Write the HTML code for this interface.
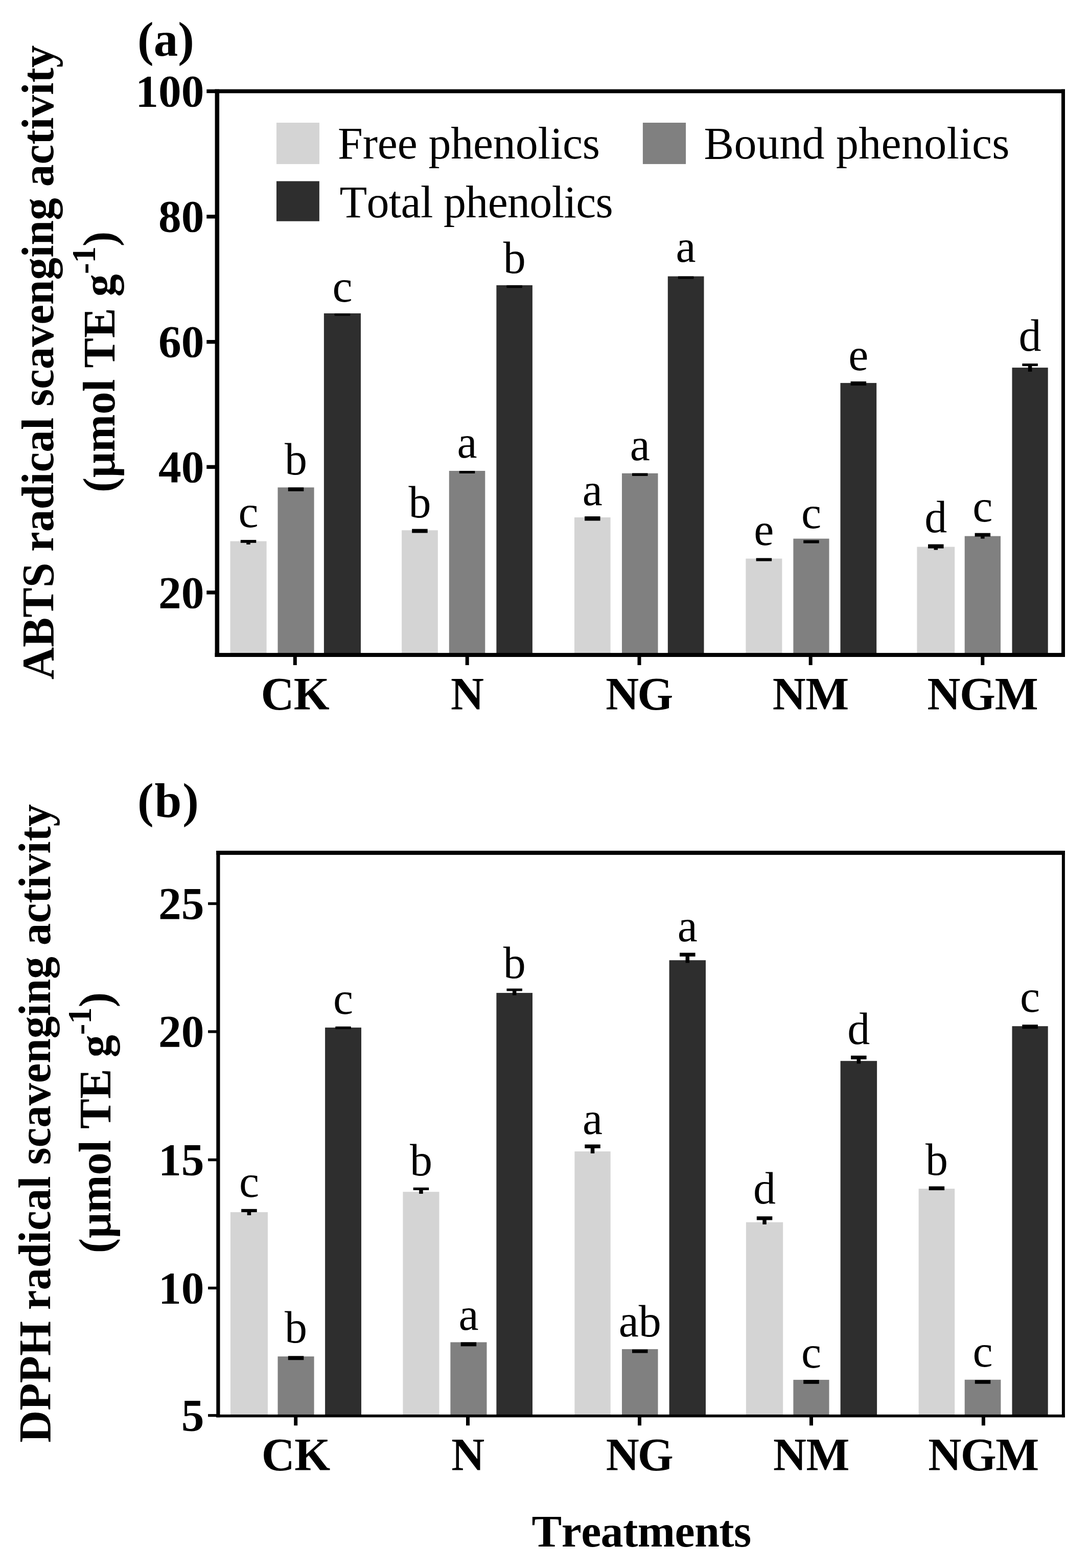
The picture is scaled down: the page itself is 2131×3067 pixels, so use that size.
<!DOCTYPE html>
<html><head><meta charset="utf-8"><title>Radical scavenging activity</title>
<style>html,body{margin:0;padding:0;background:#fff;}svg{display:block;filter:blur(0.7px);}text{font-kerning:none;font-feature-settings:"kern" 0;}</style>
</head><body>
<svg width="2131" height="3067" viewBox="0 0 2131 3067" font-family="'Liberation Serif', 'Times New Roman', serif">
<rect x="0" y="0" width="2131" height="3067" fill="#fff"/>
<rect x="450.5" y="1058.6" width="71.1" height="222.4" fill="#d4d4d4"/>
<rect x="543.5" y="953.4" width="71.1" height="327.6" fill="#808080"/>
<rect x="633.9" y="612.9" width="72.1" height="668.1" fill="#2e2e2e"/>
<rect x="786.1" y="1037.2" width="70.7" height="243.8" fill="#d4d4d4"/>
<rect x="878.8" y="921" width="70.5" height="360" fill="#808080"/>
<rect x="971.4" y="557.9" width="70.5" height="723.1" fill="#2e2e2e"/>
<rect x="1124" y="1012" width="70.6" height="269" fill="#d4d4d4"/>
<rect x="1217" y="925.8" width="70.5" height="355.2" fill="#808080"/>
<rect x="1306.8" y="540.5" width="70.7" height="740.5" fill="#2e2e2e"/>
<rect x="1459.4" y="1092.6" width="71" height="188.4" fill="#d4d4d4"/>
<rect x="1552.4" y="1053.6" width="70.1" height="227.4" fill="#808080"/>
<rect x="1644.5" y="749.1" width="70.7" height="531.9" fill="#2e2e2e"/>
<rect x="1794.4" y="1069.6" width="73.8" height="211.4" fill="#d4d4d4"/>
<rect x="1887.7" y="1048.6" width="70.3" height="232.4" fill="#808080"/>
<rect x="1980.5" y="719.1" width="70.2" height="561.9" fill="#2e2e2e"/>
<rect x="470.8" y="1056.1" width="30.5" height="5.7" fill="#000"/>
<rect x="482.3" y="1061.3" width="7.5" height="3.7" fill="#000"/>
<rect x="563.8" y="953.4" width="30.5" height="7.5" fill="#000"/>
<rect x="654.7" y="613.3" width="30.5" height="4.4" fill="#000"/>
<rect x="806.2" y="1034.6" width="30.5" height="7.8" fill="#000"/>
<rect x="898.8" y="921" width="30.5" height="5" fill="#000"/>
<rect x="991.4" y="557.9" width="30.5" height="5.3" fill="#000"/>
<rect x="1144.05" y="1010" width="30.5" height="8.5" fill="#000"/>
<rect x="1237" y="925.5" width="30.5" height="5.5" fill="#000"/>
<rect x="1326.9" y="540.5" width="30.5" height="5" fill="#000"/>
<rect x="1479.65" y="1091.6" width="30.5" height="6" fill="#000"/>
<rect x="1572.2" y="1056.6" width="30.5" height="6" fill="#000"/>
<rect x="1664.6" y="746.1" width="30.5" height="8" fill="#000"/>
<rect x="1816.05" y="1064.6" width="30.5" height="8" fill="#000"/>
<rect x="1827.55" y="1072.1" width="7.5" height="3.5" fill="#000"/>
<rect x="1907.6" y="1042.6" width="30.5" height="7" fill="#000"/>
<rect x="1919.1" y="1049.1" width="7.5" height="4.5" fill="#000"/>
<rect x="2000.35" y="711.1" width="30.5" height="5" fill="#000"/>
<rect x="2011.85" y="715.6" width="7.5" height="11.4" fill="#000"/>
<rect x="420.6" y="174.6" width="1663.4" height="7.7" fill="#000"/>
<rect x="420.6" y="1277.1" width="1663.4" height="7.9" fill="#000"/>
<rect x="420.6" y="174.6" width="8.5" height="1110.4" fill="#000"/>
<rect x="2077" y="174.6" width="7" height="1110.4" fill="#000"/>
<rect x="404.3" y="174.75" width="17.3" height="7.4" fill="#000"/>
<text x="399.6" y="208.05" font-size="89.5" font-weight="bold" text-anchor="end">100</text>
<rect x="404.3" y="420" width="17.3" height="7.4" fill="#000"/>
<text x="399.6" y="453.3" font-size="89.5" font-weight="bold" text-anchor="end">80</text>
<rect x="404.3" y="665" width="17.3" height="7.4" fill="#000"/>
<text x="399.6" y="698.3" font-size="89.5" font-weight="bold" text-anchor="end">60</text>
<rect x="404.3" y="909.7" width="17.3" height="7.4" fill="#000"/>
<text x="399.6" y="943" font-size="89.5" font-weight="bold" text-anchor="end">40</text>
<rect x="404.3" y="1155.2" width="17.3" height="7.4" fill="#000"/>
<text x="399.6" y="1188.5" font-size="89.5" font-weight="bold" text-anchor="end">20</text>
<rect x="573.8" y="1284" width="7" height="17" fill="#000"/>
<text x="577.6" y="1388.4" font-size="90.0" font-weight="bold" text-anchor="middle" textLength="134.3" lengthAdjust="spacing">CK</text>
<rect x="910.7" y="1284" width="7" height="17" fill="#000"/>
<text x="914.5" y="1388.4" font-size="90.0" font-weight="bold" text-anchor="middle">N</text>
<rect x="1247.5" y="1284" width="7" height="17" fill="#000"/>
<text x="1251.3" y="1388.4" font-size="90.0" font-weight="bold" text-anchor="middle" textLength="131.9" lengthAdjust="spacing">NG</text>
<rect x="1582.7" y="1284" width="7" height="17" fill="#000"/>
<text x="1586.5" y="1388.4" font-size="90.0" font-weight="bold" text-anchor="middle" textLength="149.4" lengthAdjust="spacing">NM</text>
<rect x="1919.3" y="1284" width="7" height="17" fill="#000"/>
<text x="1923.1" y="1388.4" font-size="90.0" font-weight="bold" text-anchor="middle" textLength="217.1" lengthAdjust="spacing">NGM</text>
<text x="486.05" y="1031.4" font-size="88.0" text-anchor="middle">c</text>
<text x="579.05" y="927.8" font-size="88.0" text-anchor="middle">b</text>
<text x="669.95" y="590.1" font-size="88.0" text-anchor="middle">c</text>
<text x="821.45" y="1011.5" font-size="88.0" text-anchor="middle">b</text>
<text x="914.05" y="895.2" font-size="88.0" text-anchor="middle">a</text>
<text x="1006.65" y="533.5" font-size="88.0" text-anchor="middle">b</text>
<text x="1159.3" y="987.5" font-size="88.0" text-anchor="middle">a</text>
<text x="1252.25" y="900.1" font-size="88.0" text-anchor="middle">a</text>
<text x="1342.15" y="511.7" font-size="88.0" text-anchor="middle">a</text>
<text x="1494.9" y="1065.7" font-size="88.0" text-anchor="middle">e</text>
<text x="1587.45" y="1032.6" font-size="88.0" text-anchor="middle">c</text>
<text x="1679.85" y="724.2" font-size="88.0" text-anchor="middle">e</text>
<text x="1831.3" y="1040.7" font-size="88.0" text-anchor="middle">d</text>
<text x="1922.85" y="1019.7" font-size="88.0" text-anchor="middle">c</text>
<text x="2015.6" y="686.2" font-size="88.0" text-anchor="middle">d</text>
<rect x="450.9" y="2371" width="73.1" height="398.5" fill="#d4d4d4"/>
<rect x="543.5" y="2653.2" width="71.1" height="116.3" fill="#808080"/>
<rect x="636.1" y="2009.9" width="70.9" height="759.6" fill="#2e2e2e"/>
<rect x="788.4" y="2331.2" width="71.1" height="438.3" fill="#d4d4d4"/>
<rect x="881.4" y="2625.4" width="71.1" height="144.1" fill="#808080"/>
<rect x="971.4" y="1942.1" width="70.6" height="827.4" fill="#2e2e2e"/>
<rect x="1124.4" y="2252.2" width="70.3" height="517.3" fill="#d4d4d4"/>
<rect x="1217" y="2638.9" width="70.5" height="130.6" fill="#808080"/>
<rect x="1309.6" y="1878.2" width="71.4" height="891.3" fill="#2e2e2e"/>
<rect x="1459.9" y="2390.7" width="72.3" height="378.8" fill="#d4d4d4"/>
<rect x="1552.4" y="2698.9" width="70.1" height="70.6" fill="#808080"/>
<rect x="1644.6" y="2075.2" width="71.5" height="694.3" fill="#2e2e2e"/>
<rect x="1797.6" y="2325.1" width="70.6" height="444.4" fill="#d4d4d4"/>
<rect x="1887.7" y="2698.7" width="70.7" height="70.8" fill="#808080"/>
<rect x="1980.5" y="2007.2" width="70.2" height="762.3" fill="#2e2e2e"/>
<rect x="472.2" y="2364.8" width="30.5" height="6.2" fill="#000"/>
<rect x="483.7" y="2370.5" width="7.5" height="6.5" fill="#000"/>
<rect x="563.8" y="2652.3" width="30.5" height="7.9" fill="#000"/>
<rect x="656.3" y="2007.8" width="30.5" height="5.1" fill="#000"/>
<rect x="808.7" y="2322.8" width="30.5" height="5.2" fill="#000"/>
<rect x="820.2" y="2327.5" width="7.5" height="7.5" fill="#000"/>
<rect x="901.7" y="2625.4" width="30.5" height="7.9" fill="#000"/>
<rect x="991.45" y="1933.6" width="30.5" height="4.9" fill="#000"/>
<rect x="1002.95" y="1938" width="7.5" height="8.7" fill="#000"/>
<rect x="1144.3" y="2238.6" width="30.5" height="7.4" fill="#000"/>
<rect x="1155.8" y="2245.5" width="7.5" height="10.5" fill="#000"/>
<rect x="1237" y="2639.5" width="30.5" height="7" fill="#000"/>
<rect x="1330.05" y="1863.6" width="30.5" height="7.3" fill="#000"/>
<rect x="1341.55" y="1870.4" width="7.5" height="13" fill="#000"/>
<rect x="1480.8" y="2379.2" width="30.5" height="7.3" fill="#000"/>
<rect x="1492.3" y="2386" width="7.5" height="8.9" fill="#000"/>
<rect x="1572.2" y="2699" width="30.5" height="7.8" fill="#000"/>
<rect x="1665.1" y="2064.8" width="30.5" height="7.3" fill="#000"/>
<rect x="1676.6" y="2071.6" width="7.5" height="8.8" fill="#000"/>
<rect x="1817.65" y="2320.5" width="30.5" height="7.6" fill="#000"/>
<rect x="1907.8" y="2699.3" width="30.5" height="7.4" fill="#000"/>
<rect x="2000.35" y="2004.2" width="30.5" height="8" fill="#000"/>
<rect x="423.3" y="1664" width="1660.6" height="8.1" fill="#000"/>
<rect x="423.3" y="2766.8" width="1660.6" height="5.5" fill="#000"/>
<rect x="423.3" y="1664" width="7.2" height="1108.3" fill="#000"/>
<rect x="2077.9" y="1664" width="6" height="1108.3" fill="#000"/>
<rect x="407.1" y="1764.8" width="17.2" height="5.4" fill="#000"/>
<text x="399.6" y="1796.8" font-size="89.5" font-weight="bold" text-anchor="end">25</text>
<rect x="407.1" y="2015.2" width="17.2" height="5.4" fill="#000"/>
<text x="399.6" y="2047.2" font-size="89.5" font-weight="bold" text-anchor="end">20</text>
<rect x="407.1" y="2265.9" width="17.2" height="5.4" fill="#000"/>
<text x="399.6" y="2297.9" font-size="89.5" font-weight="bold" text-anchor="end">15</text>
<rect x="407.1" y="2516.7" width="17.2" height="5.4" fill="#000"/>
<text x="399.6" y="2548.7" font-size="89.5" font-weight="bold" text-anchor="end">10</text>
<rect x="407.1" y="2765.9" width="17.2" height="5.4" fill="#000"/>
<text x="399.6" y="2797.9" font-size="89.5" font-weight="bold" text-anchor="end">5</text>
<rect x="575.2" y="2771.3" width="7" height="17" fill="#000"/>
<text x="579" y="2876" font-size="90.0" font-weight="bold" text-anchor="middle" textLength="134.3" lengthAdjust="spacing">CK</text>
<rect x="912" y="2771.3" width="7" height="17" fill="#000"/>
<text x="915.8" y="2876" font-size="90.0" font-weight="bold" text-anchor="middle">N</text>
<rect x="1248" y="2771.3" width="7" height="17" fill="#000"/>
<text x="1251.8" y="2876" font-size="90.0" font-weight="bold" text-anchor="middle" textLength="131.9" lengthAdjust="spacing">NG</text>
<rect x="1584" y="2771.3" width="7" height="17" fill="#000"/>
<text x="1587.8" y="2876" font-size="90.0" font-weight="bold" text-anchor="middle" textLength="149.4" lengthAdjust="spacing">NM</text>
<rect x="1920.9" y="2771.3" width="7" height="17" fill="#000"/>
<text x="1924.7" y="2876" font-size="90.0" font-weight="bold" text-anchor="middle" textLength="217.1" lengthAdjust="spacing">NGM</text>
<text x="487.45" y="2341.1" font-size="88.0" text-anchor="middle">c</text>
<text x="579.05" y="2626.3" font-size="88.0" text-anchor="middle">b</text>
<text x="671.55" y="1983.1" font-size="88.0" text-anchor="middle">c</text>
<text x="823.95" y="2298.9" font-size="88.0" text-anchor="middle">b</text>
<text x="916.95" y="2600.5" font-size="88.0" text-anchor="middle">a</text>
<text x="1006.7" y="1913.2" font-size="88.0" text-anchor="middle">b</text>
<text x="1159.55" y="2217.9" font-size="88.0" text-anchor="middle">a</text>
<text x="1252.25" y="2613.5" font-size="88.0" text-anchor="middle">ab</text>
<text x="1345.3" y="1840.7" font-size="88.0" text-anchor="middle">a</text>
<text x="1496.05" y="2354.3" font-size="88.0" text-anchor="middle">d</text>
<text x="1587.45" y="2674.5" font-size="88.0" text-anchor="middle">c</text>
<text x="1680.35" y="2041.9" font-size="88.0" text-anchor="middle">d</text>
<text x="1832.9" y="2298.1" font-size="88.0" text-anchor="middle">b</text>
<text x="1923.05" y="2673.3" font-size="88.0" text-anchor="middle">c</text>
<text x="2015.6" y="1978.8" font-size="88.0" text-anchor="middle">c</text>
<rect x="541" y="240" width="84" height="80.9" fill="#d4d4d4"/>
<rect x="1257.9" y="240" width="84.2" height="80.9" fill="#808080"/>
<rect x="541" y="354.4" width="83.9" height="78.3" fill="#2e2e2e"/>
<text x="661.0" y="310.3" font-size="88.0" textLength="513.1" lengthAdjust="spacing">Free phenolics</text>
<text x="1377.6" y="310.2" font-size="88.0" textLength="598" lengthAdjust="spacing">Bound phenolics</text>
<text x="664.4" y="424.6" font-size="88.0" textLength="535.4" lengthAdjust="spacing">Total phenolics</text>
<text x="269" y="108.5" font-size="95" font-weight="bold">(a)</text>
<text x="269" y="1598" font-size="95" font-weight="bold" textLength="120" lengthAdjust="spacing">(b)</text>
<text x="1255.4" y="3025" font-size="88" font-weight="bold" text-anchor="middle" textLength="429.6" lengthAdjust="spacing">Treatments</text>
<text transform="translate(104.2 708.85) rotate(-90) scale(0.9766 1)" font-size="89.5" font-weight="bold" text-anchor="middle">ABTS radical scavenging activity</text>
<text transform="translate(224 707.9) rotate(-90) scale(0.9854 1)" font-size="89.5" font-weight="bold" text-anchor="middle">(μmol TE g<tspan font-size="66" dy="-38">-1</tspan><tspan dy="38">)</tspan></text>
<text transform="translate(97.6 2197.3) rotate(-90) scale(0.9756 1)" font-size="89.5" font-weight="bold" text-anchor="middle">DPPH radical scavenging activity</text>
<text transform="translate(216.2 2196) rotate(-90) scale(0.9844 1)" font-size="89.5" font-weight="bold" text-anchor="middle">(μmol TE g<tspan font-size="66" dy="-38">-1</tspan><tspan dy="38">)</tspan></text>
</svg>
</body></html>
